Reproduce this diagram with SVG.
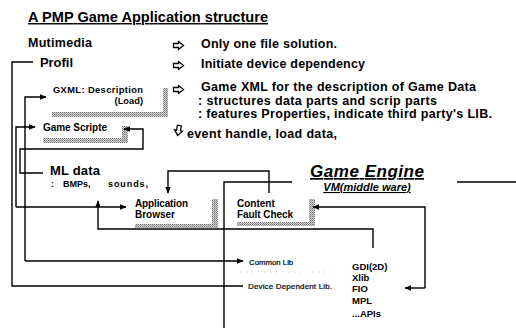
<svg xmlns="http://www.w3.org/2000/svg" width="516" height="331" viewBox="0 0 516 331">
<style>
text{font-family:"Liberation Sans",Arial,sans-serif;fill:#000}
.b{font-weight:bold}
.m{font-size:12.5px;font-weight:bold}
.s{font-size:10px;font-weight:bold}
.ln{fill:none;stroke:#000;stroke-width:1.4}
.sh{fill:url(#stip);stroke:none}
.ic{fill:#fff;stroke:#000;stroke-width:1.3;stroke-linejoin:miter}
</style>
<defs>
<pattern id="stip" width="2" height="2" patternUnits="userSpaceOnUse">
<rect width="2" height="2" fill="#d6d6d6"/>
<rect width="1" height="1" fill="#707070"/>
<rect x="1" y="1" width="1" height="1" fill="#959595"/>
</pattern>
<marker id="ah" viewBox="0 0 10 10" refX="9" refY="5" markerWidth="7" markerHeight="7" markerUnits="userSpaceOnUse" orient="auto">
<path d="M0,1 L10,5 L0,9 z" fill="#000"/>
</marker>
<symbol id="wa" viewBox="0 0 11 9" overflow="visible">
<path d="M0.5,2.5 H5.5 V0.5 L10.5,4.5 L5.5,8.5 V6.5 H0.5 z" class="ic"/>
</symbol>
</defs>
<rect width="516" height="331" fill="#fff"/>

<g id="title"><text x="28" y="22" font-size="14.6" class="b" text-decoration="underline" textLength="240">A PMP Game Application structure</text></g>

<g id="notes">
<use href="#wa" x="173" y="41" width="11" height="9"/>
<text x="201" y="48" class="m" textLength="136">Only one file solution.</text>
<use href="#wa" x="173" y="61" width="11" height="9"/>
<text x="201" y="68" class="m" textLength="164">Initiate device dependency</text>
<use href="#wa" x="173" y="85" width="11" height="9"/>
<text x="201" y="91" class="m" textLength="275">Game XML for the description of Game Data</text>
<text x="198" y="105" class="m" textLength="239">: structures data parts and scrip parts</text>
<text x="198" y="118" class="m" textLength="294">: features Properties, indicate third party's LIB.</text>
<use href="#wa" x="173" y="126" width="11" height="9" transform="rotate(100 178.5 130.5)"/>
<text x="187" y="138" class="m" textLength="150">event handle, load data,</text>
</g>

<g id="mutimedia"><text x="28" y="47" font-size="12.5" class="b" textLength="64">Mutimedia</text></g>
<g id="profil"><text x="40" y="67" font-size="13" class="b" textLength="33">Profil</text></g>

<g id="gxml">
<rect class="sh" x="163" y="88" width="5" height="29"/>
<rect class="sh" x="52" y="112" width="116" height="5"/>
<text x="53" y="93" font-size="9.3" class="b" textLength="90">GXML: Description</text>
<text x="143" y="104" font-size="9.3" class="b" text-anchor="end">(Load)</text>
</g>

<g id="gamescripte">
<rect class="sh" x="122" y="126" width="6" height="17"/>
<rect class="sh" x="43" y="138" width="85" height="5"/>
<text x="43" y="131" class="s" textLength="64">Game Scripte</text>
</g>

<g id="mldata">
<text x="50" y="175" font-size="13" class="b" textLength="50">ML data</text>
<text x="51" y="187" font-size="9" class="b">:</text>
<text x="63" y="187" font-size="9" class="b">BMPs,</text>
<text x="108" y="187" font-size="9" class="b" textLength="40">sounds,</text>
</g>

<g id="appbrowser">
<rect class="sh" x="212" y="199" width="6" height="29"/>
<rect class="sh" x="135" y="224" width="83" height="4"/>
<text x="135" y="207" class="s" textLength="53">Application</text>
<text x="135" y="218" class="s">Browser</text>
</g>

<g id="contentcheck">
<rect class="sh" x="309" y="199" width="6" height="27"/>
<rect class="sh" x="237" y="222" width="78" height="4"/>
<text x="237" y="207" class="s">Content</text>
<text x="237" y="218" class="s" textLength="56">Fault Check</text>
</g>

<g id="gameengine">
<text x="310" y="177" font-size="17" class="b" font-style="italic" text-decoration="underline" textLength="114">Game Engine</text>
<text x="367" y="191" font-size="11" class="b" font-style="italic" text-decoration="underline" text-anchor="middle">VM(middle ware)</text>
</g>

<g id="commonlib"><text x="249" y="265" font-size="7.8" stroke="#000" stroke-width="0.2">Common Lib</text></g>
<g id="devicelib"><text x="248" y="289" font-size="8" textLength="84" stroke="#000" stroke-width="0.2">Device Dependent Lib.</text></g>

<g id="apis">
<text x="352" y="270" font-size="9.5" class="b">GDI(2D)</text>
<text x="352" y="281" font-size="9.5" class="b">Xlib</text>
<text x="352" y="292" font-size="9.5" class="b">FIO</text>
<text x="352" y="304" font-size="9.5" class="b">MPL</text>
<text x="352" y="317" font-size="9.5" class="b">...APIs</text>
</g>

<g id="connectors">
<path class="ln" d="M33,62 H12 V286 H243"/>
<path class="ln" d="M25,261 V97 H46" marker-end="url(#ah)"/>
<path class="ln" d="M25,261 H243" marker-end="url(#ah)"/>
<path class="ln" d="M16,207 V127 H35" marker-end="url(#ah)"/>
<path class="ln" d="M16,207 H126" marker-end="url(#ah)"/>
<path class="ln" d="M43,173 H20 V149 H143 V129 H124" marker-end="url(#ah)"/>
<path class="ln" d="M269,193 V171 H168 V193" marker-end="url(#ah)"/>
<path class="ln" d="M224,328 V182 H292"/>
<path class="ln" d="M457,182 H516"/>
<path class="ln" d="M373,248 V229 H98 V201" marker-end="url(#ah)"/>
<path class="ln" d="M425,288 V207 H313" marker-end="url(#ah)"/>
<path class="ln" d="M425,288 H405" marker-end="url(#ah)"/>
<path d="M240,272 H335" fill="none" stroke="#bbb" stroke-width="1" stroke-dasharray="1 5"/>
</g>
</svg>
